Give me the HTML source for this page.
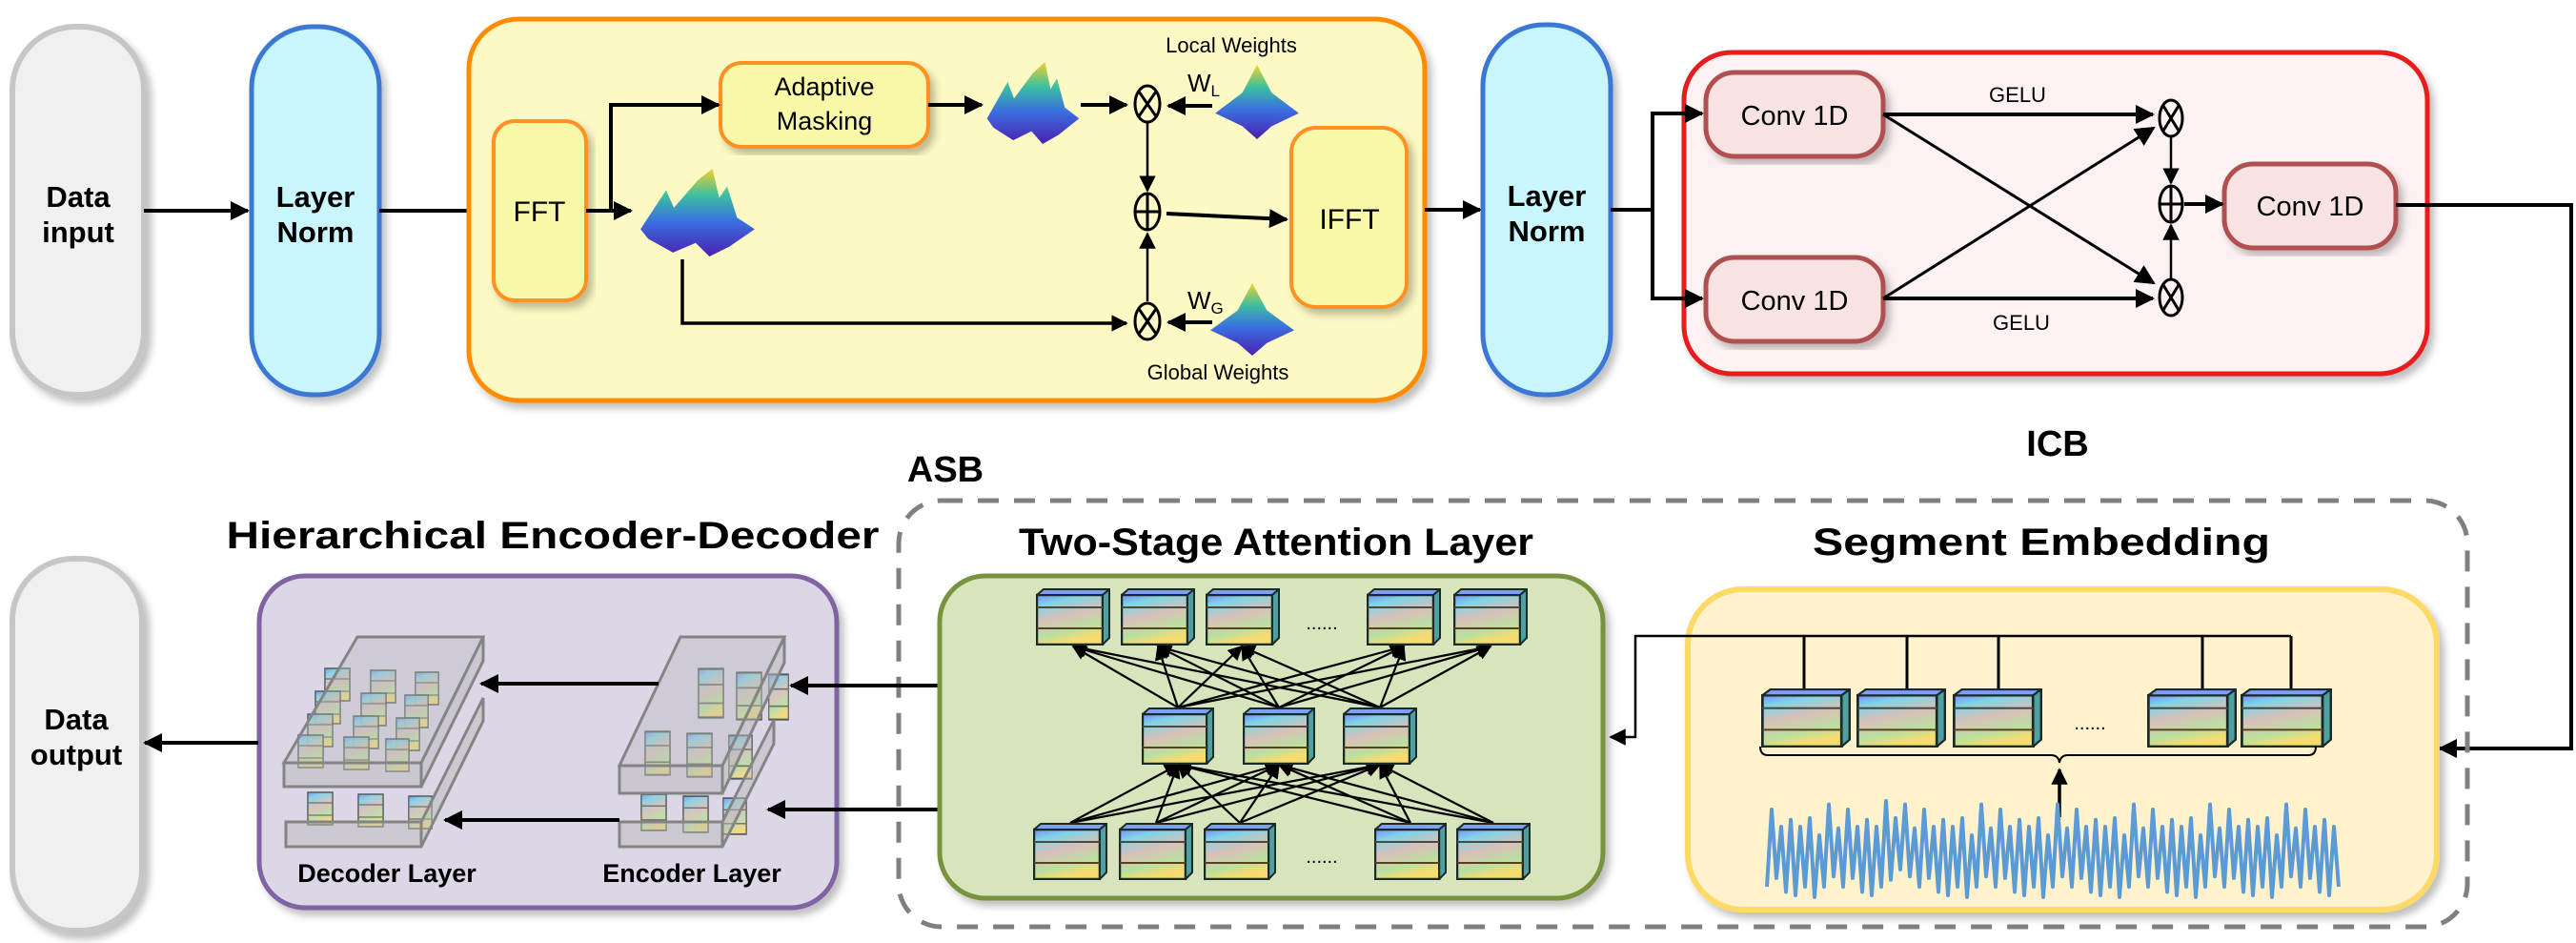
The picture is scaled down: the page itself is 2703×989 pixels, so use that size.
<!DOCTYPE html>
<html><head><meta charset="utf-8"><style>
html,body{margin:0;padding:0;background:#fff}
svg{display:block}
text{font-family:"Liberation Sans",sans-serif}
</style></head><body>
<svg width="2703" height="989" viewBox="0 0 2703 989" xmlns="http://www.w3.org/2000/svg">
<defs>
<marker id="ar" viewBox="0 0 10 10" refX="9" refY="5" markerWidth="5" markerHeight="5" orient="auto" markerUnits="strokeWidth"><path d="M0,0L10,5L0,10z" fill="#000"/></marker>
<marker id="as" viewBox="0 0 10 10" refX="9" refY="5" markerWidth="7" markerHeight="7" orient="auto" markerUnits="strokeWidth"><path d="M0,0L10,5L0,10z" fill="#000"/></marker>
<linearGradient id="cg" x1="0" y1="0" x2="0.3" y2="1">
<stop offset="0" stop-color="#7a8cff"/><stop offset="0.2" stop-color="#7fd4e6"/><stop offset="0.5" stop-color="#d9c0b8"/><stop offset="0.8" stop-color="#b9e0a0"/><stop offset="1" stop-color="#f6dc70"/></linearGradient>
<linearGradient id="sg" x1="0" y1="0" x2="0" y2="1">
<stop offset="0" stop-color="#f4d02c"/><stop offset="0.3" stop-color="#3cc0a0"/><stop offset="0.6" stop-color="#3a70e0"/><stop offset="1" stop-color="#4a20b0"/></linearGradient>
<symbol id="cube" viewBox="0 0 78 60" preserveAspectRatio="none">
<rect x="1" y="7" width="69" height="52" fill="url(#cg)" stroke="#1a2a28" stroke-width="2.5"/>
<polygon points="1,7 8,1 77,1 70,7" fill="#7fa0f0" stroke="#1a2a28" stroke-width="2"/>
<polygon points="70,7 77,1 77,52 70,59" fill="#4fa0a0" stroke="#1a2a28" stroke-width="2"/>
<line x1="1" y1="20" x2="70" y2="20" stroke="#4a4a40" stroke-width="2"/>
<line x1="1" y1="42" x2="70" y2="42" stroke="#5a4020" stroke-width="2"/>
</symbol>
<symbol id="sc" viewBox="0 0 30 36" preserveAspectRatio="none">
<rect x="1" y="1" width="28" height="34" fill="url(#cg)" stroke="#3a4a40" stroke-width="1.5" opacity="0.9"/>
<line x1="1" y1="12" x2="29" y2="12" stroke="#6a6a60" stroke-width="1.2"/>
<line x1="1" y1="25" x2="29" y2="25" stroke="#6a6a60" stroke-width="1.2"/>
</symbol>
<symbol id="surf" viewBox="0 0 120 90" preserveAspectRatio="none">
<path d="M2,62 L28,22 L36,40 L60,12 L75,0 L82,30 L90,18 L100,50 L118,62 L92,80 L72,90 L58,76 L35,86 L10,72 Z" fill="url(#sg)"/>
</symbol>
<symbol id="peak" viewBox="0 0 90 80" preserveAspectRatio="none">
<path d="M2,52 L30,30 L45,0 L60,30 L88,52 L60,66 L45,80 L30,66 Z" fill="url(#sg)"/>
</symbol>
<filter id="sh" x="-5%" y="-5%" width="115%" height="115%"><feDropShadow dx="5" dy="6" stdDeviation="4" flood-color="#000" flood-opacity="0.25"/></filter>
</defs>

<rect x="13" y="28" width="138" height="386" rx="66" fill="#f0f0f0" stroke="#c6c6c6" stroke-width="6" filter="url(#sh)"/>
<text x="82" y="217" font-size="31" font-weight="bold" text-anchor="middle">Data</text>
<text x="82" y="254" font-size="31" font-weight="bold" text-anchor="middle">input</text>

<rect x="264" y="28" width="134" height="386" rx="64" fill="#c8f6fc" stroke="#3a78d6" stroke-width="5" filter="url(#sh)"/>
<text x="331" y="217" font-size="31" font-weight="bold" text-anchor="middle">Layer</text>
<text x="331" y="254" font-size="31" font-weight="bold" text-anchor="middle">Norm</text>

<line x1="151" y1="221" x2="260" y2="221" stroke="#000" stroke-width="4" marker-end="url(#ar)"/>
<line x1="398" y1="221" x2="515" y2="221" stroke="#000" stroke-width="4" marker-end="url(#ar)"/>

<rect x="492" y="20" width="1003" height="400" rx="52" fill="#fdf9c4" stroke="#ff8c00" stroke-width="5" filter="url(#sh)"/>
<rect x="518" y="127" width="97" height="188" rx="22" fill="#f8f8a8" stroke="#ff9020" stroke-width="4" filter="url(#sh)"/>
<text x="566" y="232" font-size="30" text-anchor="middle">FFT</text>
<rect x="756" y="66" width="218" height="88" rx="22" fill="#f8f8a8" stroke="#ff9020" stroke-width="4" filter="url(#sh)"/>
<text x="865" y="100" font-size="27" text-anchor="middle">Adaptive</text>
<text x="865" y="136" font-size="27" text-anchor="middle">Masking</text>
<rect x="1355" y="134" width="121" height="188" rx="26" fill="#f8f8a8" stroke="#ff9020" stroke-width="4" filter="url(#sh)"/>
<text x="1416" y="240" font-size="30" text-anchor="middle">IFFT</text>

<use href="#surf" x="670" y="177" width="124" height="92"/>
<use href="#surf" x="1034" y="65" width="100" height="86"/>
<use href="#peak" x="1273" y="68" width="92" height="78"/>
<use href="#peak" x="1268" y="297" width="92" height="76"/>

<line x1="615" y1="221" x2="662" y2="221" stroke="#000" stroke-width="4" marker-end="url(#ar)"/>
<polyline points="641,221 641,110 754,110" fill="none" stroke="#000" stroke-width="4" marker-end="url(#ar)"/>
<line x1="974" y1="110" x2="1030" y2="110" stroke="#000" stroke-width="4" marker-end="url(#ar)"/>
<line x1="1134" y1="110" x2="1182" y2="110" stroke="#000" stroke-width="4" marker-end="url(#ar)"/>
<line x1="1272" y1="111" x2="1226" y2="111" stroke="#000" stroke-width="4" marker-end="url(#ar)"/>
<polyline points="716,272 716,339 1182,339" fill="none" stroke="#000" stroke-width="3.5" marker-end="url(#ar)"/>
<line x1="1272" y1="338" x2="1226" y2="338" stroke="#000" stroke-width="4" marker-end="url(#ar)"/>
<line x1="1204" y1="128" x2="1204" y2="200" stroke="#000" stroke-width="2.5" marker-end="url(#as)"/>
<line x1="1204" y1="316" x2="1204" y2="245" stroke="#000" stroke-width="2.5" marker-end="url(#as)"/>
<line x1="1224" y1="224" x2="1350" y2="230" stroke="#000" stroke-width="4" marker-end="url(#ar)"/>
<g fill="none" stroke="#000" stroke-width="3">
<ellipse cx="1204" cy="109" rx="13" ry="19"/><line x1="1195" y1="96" x2="1213" y2="122"/><line x1="1213" y1="96" x2="1195" y2="122"/>
<ellipse cx="1204" cy="337" rx="13" ry="19"/><line x1="1195" y1="324" x2="1213" y2="350"/><line x1="1213" y1="324" x2="1195" y2="350"/>
<ellipse cx="1204" cy="222" rx="13" ry="19"/><line x1="1191" y1="222" x2="1217" y2="222"/><line x1="1204" y1="203" x2="1204" y2="241"/>
</g>
<text x="1292" y="55" font-size="22" text-anchor="middle">Local Weights</text>
<text x="1278" y="398" font-size="22" text-anchor="middle">Global Weights</text>
<text x="1246" y="96" font-size="26" font-family="Liberation Serif">W<tspan font-size="17" dy="5">L</tspan></text>
<text x="1246" y="324" font-size="26" font-family="Liberation Serif">W<tspan font-size="17" dy="5">G</tspan></text>

<line x1="1495" y1="220" x2="1553" y2="220" stroke="#000" stroke-width="4" marker-end="url(#ar)"/>
<rect x="1556" y="26" width="134" height="388" rx="64" fill="#c8f6fc" stroke="#3a78d6" stroke-width="5" filter="url(#sh)"/>
<text x="1623" y="216" font-size="31" font-weight="bold" text-anchor="middle">Layer</text>
<text x="1623" y="253" font-size="31" font-weight="bold" text-anchor="middle">Norm</text>

<rect x="1767" y="55" width="780" height="337" rx="50" fill="#fcf2f2" stroke="#e81c1c" stroke-width="5" filter="url(#sh)"/>
<polyline points="1690,220 1734,220" fill="none" stroke="#000" stroke-width="4"/>
<polyline points="1734,220 1734,119 1786,119" fill="none" stroke="#000" stroke-width="4" marker-end="url(#ar)"/>
<polyline points="1734,220 1734,313 1786,313" fill="none" stroke="#000" stroke-width="4" marker-end="url(#ar)"/>
<rect x="1790" y="76" width="186" height="88" rx="30" fill="#f8e2e2" stroke="#b05050" stroke-width="5" filter="url(#sh)"/>
<text x="1883" y="131" font-size="29" text-anchor="middle">Conv 1D</text>
<rect x="1790" y="270" width="186" height="88" rx="30" fill="#f8e2e2" stroke="#b05050" stroke-width="5" filter="url(#sh)"/>
<text x="1883" y="325" font-size="29" text-anchor="middle">Conv 1D</text>
<rect x="2334" y="172" width="180" height="88" rx="30" fill="#f8e2e2" stroke="#b05050" stroke-width="5" filter="url(#sh)"/>
<text x="2424" y="226" font-size="29" text-anchor="middle">Conv 1D</text>
<line x1="1976" y1="120" x2="2259" y2="120" stroke="#000" stroke-width="4" marker-end="url(#ar)"/>
<line x1="1976" y1="313" x2="2259" y2="313" stroke="#000" stroke-width="4" marker-end="url(#ar)"/>
<line x1="1976" y1="120" x2="2260" y2="297" stroke="#000" stroke-width="3" marker-end="url(#as)"/>
<line x1="1976" y1="313" x2="2260" y2="134" stroke="#000" stroke-width="3" marker-end="url(#as)"/>
<line x1="2278" y1="143" x2="2278" y2="192" stroke="#000" stroke-width="2.5" marker-end="url(#as)"/>
<line x1="2278" y1="293" x2="2278" y2="236" stroke="#000" stroke-width="2.5" marker-end="url(#as)"/>
<line x1="2292" y1="214" x2="2332" y2="214" stroke="#000" stroke-width="4" marker-end="url(#ar)"/>
<g fill="none" stroke="#000" stroke-width="3">
<ellipse cx="2278" cy="124" rx="12" ry="19"/><line x1="2270" y1="111" x2="2286" y2="137"/><line x1="2286" y1="111" x2="2270" y2="137"/>
<ellipse cx="2278" cy="312" rx="12" ry="19"/><line x1="2270" y1="299" x2="2286" y2="325"/><line x1="2286" y1="299" x2="2270" y2="325"/>
<ellipse cx="2278" cy="214" rx="12" ry="19"/><line x1="2266" y1="214" x2="2290" y2="214"/><line x1="2278" y1="195" x2="2278" y2="233"/>
</g>
<text x="2117" y="107" font-size="22" text-anchor="middle">GELU</text>
<text x="2121" y="346" font-size="22" text-anchor="middle">GELU</text>
<polyline points="2514,215 2698,215 2698,785 2560,785" fill="none" stroke="#000" stroke-width="4" marker-end="url(#ar)"/>

<text x="992" y="505" font-size="38" font-weight="bold" text-anchor="middle">ASB</text>
<text x="2159" y="478" font-size="38" font-weight="bold" text-anchor="middle">ICB</text>

<rect x="943" y="525" width="1646" height="447" rx="45" fill="none" stroke="#808080" stroke-width="5" stroke-dasharray="22,16"/>

<text x="580" y="575" font-size="40" font-weight="bold" text-anchor="middle" textLength="685" lengthAdjust="spacingAndGlyphs">Hierarchical Encoder-Decoder</text>
<text x="1339" y="582" font-size="40" font-weight="bold" text-anchor="middle" textLength="540" lengthAdjust="spacingAndGlyphs">Two-Stage Attention Layer</text>
<text x="2142" y="582" font-size="40" font-weight="bold" text-anchor="middle" textLength="480" lengthAdjust="spacingAndGlyphs">Segment Embedding</text>

<rect x="13" y="586" width="136" height="390" rx="64" fill="#f0f0f0" stroke="#c6c6c6" stroke-width="6" filter="url(#sh)"/>
<text x="80" y="765" font-size="31" font-weight="bold" text-anchor="middle">Data</text>
<text x="80" y="802" font-size="31" font-weight="bold" text-anchor="middle">output</text>

<rect x="272" y="604" width="606" height="348" rx="48" fill="#dcd6e6" stroke="#8064a2" stroke-width="5" filter="url(#sh)"/>
<line x1="271" y1="779" x2="152" y2="779" stroke="#000" stroke-width="4" marker-end="url(#ar)"/>

<g opacity="0.95">
<g>
<use href="#sc" x="340" y="700" width="28" height="36"/><use href="#sc" x="388" y="702" width="28" height="36"/><use href="#sc" x="435" y="704" width="26" height="36"/>
<use href="#sc" x="330" y="724" width="28" height="36"/><use href="#sc" x="378" y="726" width="28" height="36"/><use href="#sc" x="424" y="728" width="26" height="36"/>
<use href="#sc" x="322" y="748" width="28" height="36"/><use href="#sc" x="370" y="750" width="28" height="36"/><use href="#sc" x="415" y="752" width="26" height="36"/>
<use href="#sc" x="312" y="770" width="28" height="36"/><use href="#sc" x="360" y="772" width="28" height="36"/><use href="#sc" x="404" y="774" width="26" height="36"/>
<use href="#sc" x="322" y="830" width="28" height="36"/><use href="#sc" x="375" y="832" width="28" height="36"/><use href="#sc" x="428" y="834" width="26" height="36"/>
</g>
<polygon points="375,668 507,668 442,800 298,800" fill="#b8b8b8" fill-opacity="0.35" stroke="#808080" stroke-width="3"/>
<polygon points="298,800 442,800 442,825 298,825" fill="#b8b8b8" fill-opacity="0.5" stroke="#808080" stroke-width="3"/>
<polygon points="442,800 507,668 507,693 442,825" fill="#b8b8b8" fill-opacity="0.5" stroke="#808080" stroke-width="3"/>
<polygon points="300,862 442,862 507,732 507,756 442,888 300,888" fill="#b8b8b8" fill-opacity="0.45" stroke="#808080" stroke-width="3"/>
<line x1="442" y1="862" x2="442" y2="888" stroke="#808080" stroke-width="3"/>
<g>
<use href="#sc" x="732" y="700" width="28" height="54"/><use href="#sc" x="772" y="704" width="28" height="52"/><use href="#sc" x="806" y="706" width="22" height="50"/>
<use href="#sc" x="676" y="766" width="28" height="48"/><use href="#sc" x="720" y="768" width="28" height="48"/><use href="#sc" x="764" y="770" width="26" height="48"/>
<use href="#sc" x="672" y="832" width="28" height="40"/><use href="#sc" x="716" y="834" width="28" height="40"/><use href="#sc" x="758" y="836" width="26" height="40"/>
</g>
<polygon points="714,668 823,668 758,803 650,803" fill="#b8b8b8" fill-opacity="0.35" stroke="#808080" stroke-width="3"/>
<polygon points="650,803 758,803 758,832 650,832" fill="#b8b8b8" fill-opacity="0.5" stroke="#808080" stroke-width="3"/>
<polygon points="758,803 823,668 823,695 758,832" fill="#b8b8b8" fill-opacity="0.5" stroke="#808080" stroke-width="3"/>
<polygon points="650,862 758,862 812,755 812,780 758,888 650,888" fill="#b8b8b8" fill-opacity="0.45" stroke="#808080" stroke-width="3"/>
<line x1="758" y1="862" x2="758" y2="888" stroke="#808080" stroke-width="3"/>
</g>
<line x1="691" y1="717" x2="505" y2="717" stroke="#000" stroke-width="4" marker-end="url(#ar)"/>
<line x1="650" y1="860" x2="467" y2="860" stroke="#000" stroke-width="4" marker-end="url(#ar)"/>
<line x1="988" y1="719" x2="830" y2="719" stroke="#000" stroke-width="4" marker-end="url(#ar)"/>
<line x1="988" y1="849" x2="806" y2="849" stroke="#000" stroke-width="4" marker-end="url(#ar)"/>
<text x="406" y="925" font-size="27" font-weight="bold" text-anchor="middle">Decoder Layer</text>
<text x="726" y="925" font-size="27" font-weight="bold" text-anchor="middle">Encoder Layer</text>

<rect x="986" y="604" width="696" height="338" rx="48" fill="#d7e4bc" stroke="#77933c" stroke-width="5" filter="url(#sh)"/>
<g stroke="#000" stroke-width="2.2" marker-end="url(#as)">
<line x1="1236" y1="742" x2="1126" y2="678"/><line x1="1236" y1="742" x2="1215" y2="678"/><line x1="1236" y1="742" x2="1303" y2="678"/><line x1="1236" y1="742" x2="1473" y2="678"/><line x1="1236" y1="742" x2="1564" y2="678"/>
<line x1="1342" y1="742" x2="1126" y2="678"/><line x1="1342" y1="742" x2="1215" y2="678"/><line x1="1342" y1="742" x2="1303" y2="678"/><line x1="1342" y1="742" x2="1473" y2="678"/><line x1="1342" y1="742" x2="1564" y2="678"/>
<line x1="1448" y1="742" x2="1126" y2="678"/><line x1="1448" y1="742" x2="1215" y2="678"/><line x1="1448" y1="742" x2="1303" y2="678"/><line x1="1448" y1="742" x2="1473" y2="678"/><line x1="1448" y1="742" x2="1564" y2="678"/>
<line x1="1123" y1="863" x2="1236" y2="802"/><line x1="1123" y1="863" x2="1342" y2="802"/><line x1="1123" y1="863" x2="1448" y2="802"/>
<line x1="1213" y1="863" x2="1236" y2="802"/><line x1="1213" y1="863" x2="1342" y2="802"/><line x1="1213" y1="863" x2="1448" y2="802"/>
<line x1="1301" y1="863" x2="1236" y2="802"/><line x1="1301" y1="863" x2="1342" y2="802"/><line x1="1301" y1="863" x2="1448" y2="802"/>
<line x1="1480" y1="863" x2="1236" y2="802"/><line x1="1480" y1="863" x2="1342" y2="802"/><line x1="1480" y1="863" x2="1448" y2="802"/>
<line x1="1567" y1="863" x2="1236" y2="802"/><line x1="1567" y1="863" x2="1342" y2="802"/><line x1="1567" y1="863" x2="1448" y2="802"/>
</g>
<use href="#cube" x="1087" y="617" width="78" height="60"/><use href="#cube" x="1176" y="617" width="78" height="60"/><use href="#cube" x="1265" y="617" width="78" height="60"/><use href="#cube" x="1434" y="617" width="78" height="60"/><use href="#cube" x="1525" y="617" width="78" height="60"/>
<text x="1387" y="660" font-size="20" text-anchor="middle">......</text>
<use href="#cube" x="1198" y="742" width="76" height="60"/><use href="#cube" x="1304" y="742" width="76" height="60"/><use href="#cube" x="1409" y="742" width="78" height="60"/>
<use href="#cube" x="1084" y="863" width="78" height="60"/><use href="#cube" x="1174" y="863" width="78" height="60"/><use href="#cube" x="1263" y="863" width="76" height="60"/><use href="#cube" x="1442" y="863" width="76" height="60"/><use href="#cube" x="1528" y="863" width="78" height="60"/>
<text x="1387" y="905" font-size="20" text-anchor="middle">......</text>

<rect x="1771" y="618" width="786" height="336" rx="58" fill="#fff2cc" stroke="#ffd966" stroke-width="6" filter="url(#sh)"/>
<polyline points="2404,667 1716,667 1716,773 1690,773" fill="none" stroke="#000" stroke-width="2.5" marker-end="url(#as)"/>
<g stroke="#000" stroke-width="3">
<line x1="1893" y1="667" x2="1893" y2="723"/><line x1="2001" y1="667" x2="2001" y2="723"/><line x1="2097" y1="667" x2="2097" y2="723"/><line x1="2311" y1="667" x2="2311" y2="723"/><line x1="2404" y1="667" x2="2404" y2="723"/>
</g>
<use href="#cube" x="1848" y="722" width="94" height="62"/><use href="#cube" x="1948" y="722" width="94" height="62"/><use href="#cube" x="2049" y="722" width="94" height="62"/><use href="#cube" x="2253" y="722" width="94" height="62"/><use href="#cube" x="2351" y="722" width="96" height="62"/>
<text x="2193" y="765" font-size="20" text-anchor="middle">......</text>
<path d="M1847,783 Q1847,792 1855,792 L2152,792 Q2160,792 2161,800 Q2162,792 2170,792 L2422,792 Q2430,792 2430,783" fill="none" stroke="#000" stroke-width="2"/>
<line x1="2161" y1="857" x2="2161" y2="807" stroke="#000" stroke-width="3.5" marker-end="url(#ar)"/>
<g transform="matrix(1,0,0,1.8,0,-681)">
<path d="M1854,895 l5,-45 l5,40 l5,-30 l5,38 l5,-42 l5,44 l5,-40 l5,35 l5,-40 l5,46 l5,-36 l5,30 l5,-48 l5,42 l5,-28 l5,34 l5,-45 l5,40 l5,-30 l5,38 l5,-42 l5,44 l5,-40 l5,35 l5,-50 l5,46 l5,-36 l5,30 l5,-38 l5,42 l5,-28 l5,34 l5,-45 l5,40 l5,-30 l5,38 l5,-42 l5,44 l5,-40 l5,35 l5,-40 l5,46 l5,-36 l5,30 l5,-48 l5,42 l5,-28 l5,34 l5,-45 l5,40 l5,-30 l5,38 l5,-42 l5,44 l5,-40 l5,35 l5,-40 l5,46 l5,-36 l5,30 l5,-48 l5,42 l5,-28 l5,34 l5,-45 l5,40 l5,-30 l5,38 l5,-42 l5,44 l5,-40 l5,35 l5,-40 l5,46 l5,-36 l5,30 l5,-48 l5,42 l5,-28 l5,34 l5,-45 l5,40 l5,-30 l5,38 l5,-42 l5,44 l5,-40 l5,35 l5,-40 l5,46 l5,-36 l5,30 l5,-48 l5,42 l5,-28 l5,34 l5,-45 l5,40 l5,-30 l5,38 l5,-42 l5,44 l5,-40 l5,35 l5,-40 l5,46 l5,-36 l5,30 l5,-48 l5,42 l5,-28 l5,34 l5,-45 l5,40 l5,-30 l5,38 l5,-42 l5,44 l5,-40 l5,35" fill="none" stroke="#5b9bd5" stroke-width="4" stroke-linejoin="round" vector-effect="non-scaling-stroke"/>
</g>
</svg>
</body></html>
